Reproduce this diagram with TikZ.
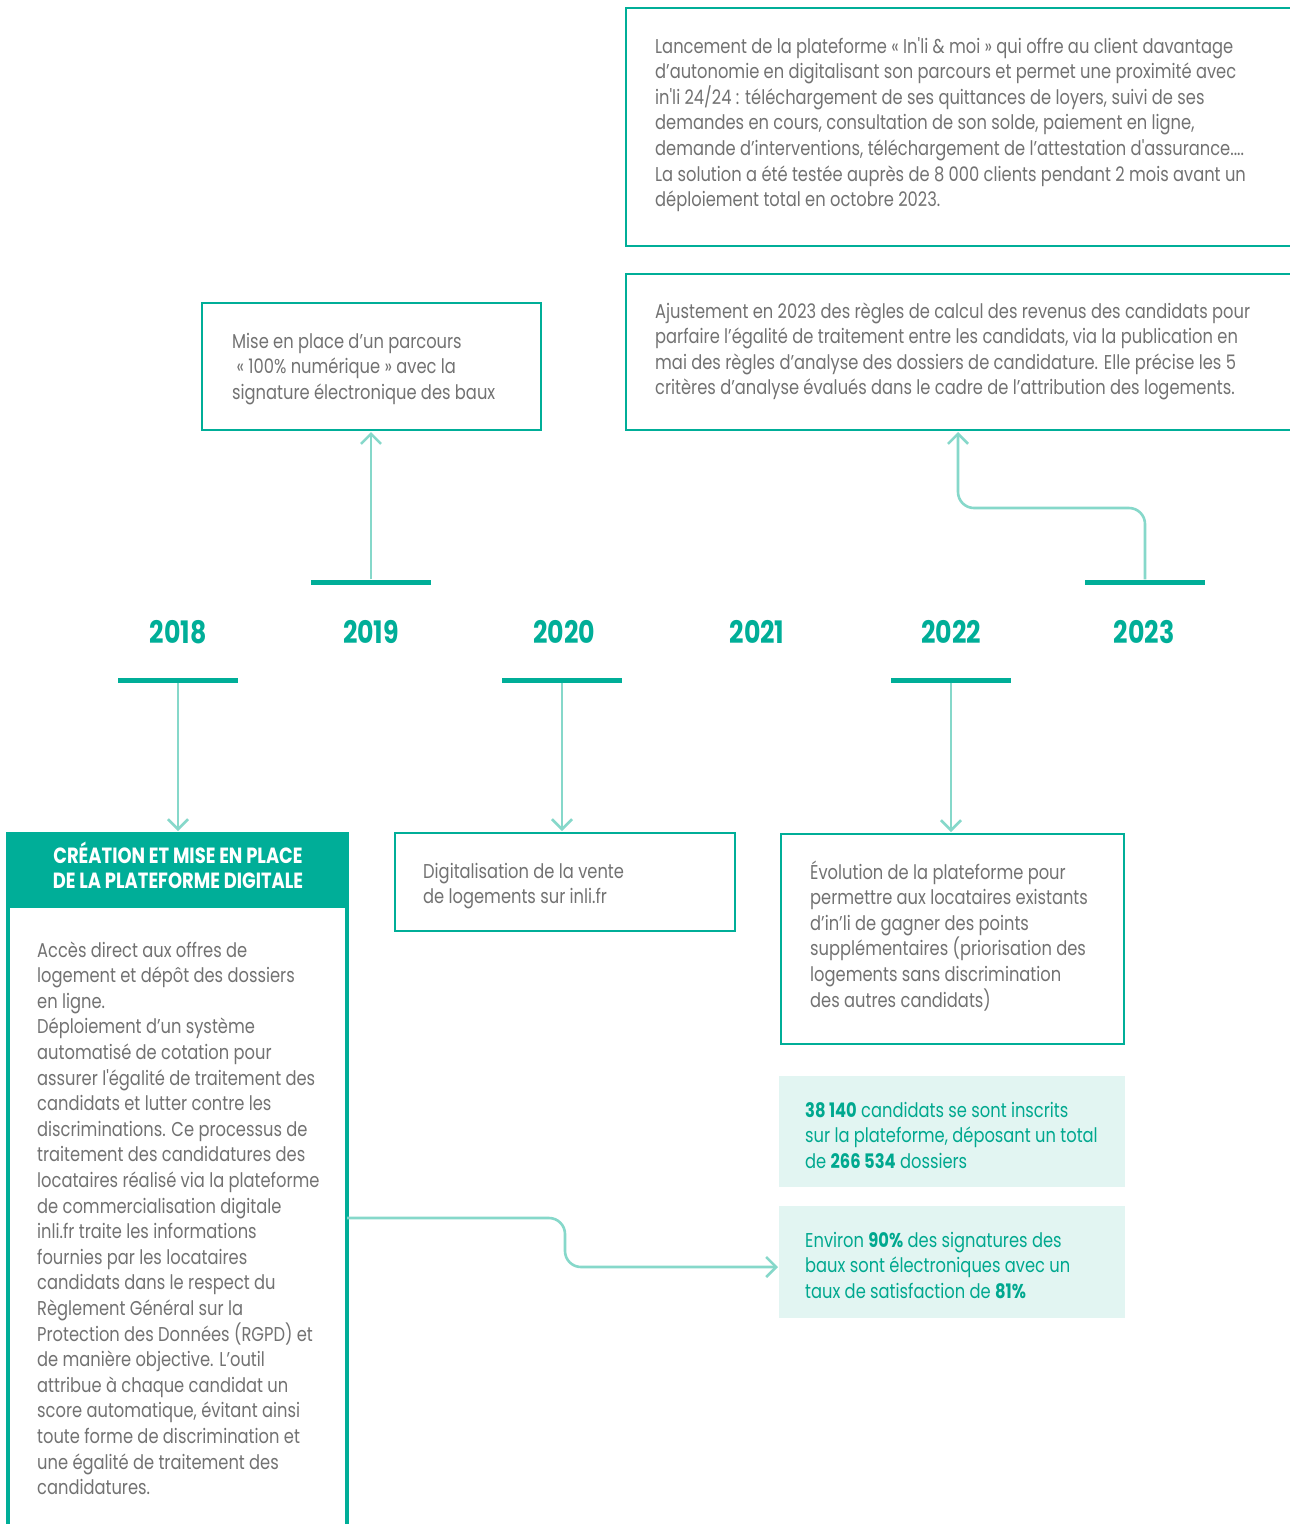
\documentclass[tikz,border=0pt]{standalone}
\usepackage{fontspec}
\setmainfont{Poppins}[FakeStretch=0.815,Ligatures=TeXOff]
\usetikzlibrary{arrows.meta}
\definecolor{tealA}{HTML}{00AE98}
\definecolor{tealL}{HTML}{86D8CA}
\definecolor{gtxt}{HTML}{727272}
\definecolor{statbg}{HTML}{E2F5F2}
\definecolor{stattxt}{HTML}{00A88F}
\newcommand{\mytxt}[1]{\parbox[t]{700pt}{\raggedright #1}}
\tikzset{
  box/.style={draw=tealA, line width=2.5pt, anchor=north west, inner sep=0pt, outer sep=0pt},
  statbox/.style={fill=statbg, anchor=north west, inner sep=0pt, outer sep=0pt},
  bar/.style={fill=tealA, minimum width=120pt, minimum height=5pt, inner sep=0pt},
  txt/.style={anchor=base west, inner sep=0pt, text=gtxt, font=\fontsize{20}{25.6}\selectfont},
  stxt/.style={txt, text=stattxt},
  year/.style={anchor=base, inner sep=0pt, text=tealA, font=\fontsize{31}{31}\selectfont\bfseries},
  conn/.style={draw=tealL, line width=2.6pt, rounded corners=16pt,
    -{Straight Barb[length=10pt, width=20pt]}},
}
\begin{document}
\begin{tikzpicture}[x=1pt,y=-1pt]
\useasboundingbox[fill=white] (0,0) rectangle (1290,1524);

% top right boxes
\node[box, minimum width=690pt, minimum height=238pt] (bA) at (626,8) {};
\node[txt] (tA) at (655,53) {\mytxt{Lancement de la plateforme « In'li \& moi » qui offre au client davantage\\
d’autonomie en digitalisant son parcours et permet une proximité avec\\
in'li 24/24 : téléchargement de ses quittances de loyers, suivi de ses\\
demandes en cours, consultation de son solde, paiement en ligne,\\
demande d’interventions, téléchargement de l’attestation d'assurance....\\
La solution a été testée auprès de 8 000 clients pendant 2 mois avant un\\
déploiement total en octobre 2023.}};

\node[box, minimum width=690pt, minimum height=156pt] (bB) at (626,274) {};
\node[txt] (tB) at (655,318) {\mytxt{Ajustement en 2023 des règles de calcul des revenus des candidats pour\\
parfaire l’égalité de traitement entre les candidats, via la publication en\\
mai des règles d’analyse des dossiers de candidature. Elle précise les 5\\
critères d’analyse évalués dans le cadre de l’attribution des logements.}};

% 2019 box
\node[box, minimum width=339pt, minimum height=127pt] (b2019) at (202,303) {};
\node[txt] (t2019) at (232,348) {\mytxt{Mise en place d’un parcours\\
\ « 100\% numérique » avec la\\
signature électronique des baux}};

% timeline bars
\node[bar] (bar2019) at (371,582) {};
\node[bar] (bar2023) at (1145,582) {};
\node[bar] (bar2018) at (178,680) {};
\node[bar] (bar2020) at (562,680) {};
\node[bar] (bar2022) at (951,680) {};

% years
\node[year] (y2018) at (178,643) {2018};
\node[year] (y2019) at (371,643) {2019};
\node[year] (y2020) at (564,643) {2020};
\node[year] (y2021) at (757,643) {2021};
\node[year] (y2022) at (951,643) {2022};
\node[year] (y2023) at (1144,643) {2023};

% 2018 box
\node[box, draw=none, fill=tealA, minimum width=343pt, minimum height=76pt] (h2018) at (6,832) {};
\node[anchor=base, inner sep=0pt, text=white, align=center,
  font=\fontsize{22}{25}\selectfont\bfseries] (th2018) at (178,863.5)
  {\parbox[t]{330pt}{\centering CRÉATION ET MISE EN PLACE\\DE LA PLATEFORME DIGITALE}};
\node[box, line width=4pt, minimum width=339pt, minimum height=660pt] (b2018) at (8,906) {};
\node[txt] (t2018) at (37,957) {\mytxt{Accès direct aux offres de\\
logement et dépôt des dossiers\\
en ligne.\\
Déploiement d’un système\\
automatisé de cotation pour\\
assurer l'égalité de traitement des\\
candidats et lutter contre les\\
discriminations. Ce processus de\\
traitement des candidatures des\\
locataires réalisé via la plateforme\\
de commercialisation digitale\\
inli.fr traite les informations\\
fournies par les locataires\\
candidats dans le respect du\\
Règlement Général sur la\\
Protection des Données (RGPD) et\\
de manière objective. L’outil\\
attribue à chaque candidat un\\
score automatique, évitant ainsi\\
toute forme de discrimination et\\
une égalité de traitement des\\
candidatures.}};

% 2020 box
\node[box, minimum width=340pt, minimum height=98pt] (b2020) at (395,833) {};
\node[txt] (t2020) at (423,878) {\mytxt{Digitalisation de la vente\\
de logements sur inli.fr}};

% 2022 box
\node[box, minimum width=343pt, minimum height=210pt] (b2022) at (781,834) {};
\node[txt] (t2022) at (810,879) {\mytxt{Évolution de la plateforme pour\\
permettre aux locataires existants\\
d’in’li de gagner des points\\
supplémentaires (priorisation des\\
logements sans discrimination\\
des autres candidats)}};

% stats
\node[statbox, minimum width=346pt, minimum height=111pt] (st1) at (779,1076) {};
\node[stxt] (ts1) at (805,1117) {\mytxt{\textbf{38 140} candidats se sont inscrits\\
sur la plateforme, déposant un total\\
de \textbf{266 534} dossiers}};
\node[statbox, minimum width=346pt, minimum height=112pt] (st2) at (779,1206) {};
\node[stxt] (ts2) at (805,1247) {\mytxt{Environ \textbf{90\%} des signatures des\\
baux sont électroniques avec un\\
taux de satisfaction de \textbf{81\%}}};

% connectors
\draw[conn] (bar2019.north) -- ([yshift=-2pt]b2019.south -| bar2019.north);
\coordinate (c23) at (958,508);
\draw[conn] (bar2023.north) |- (c23) -- ([yshift=-2pt]c23 |- bB.south);
\draw[conn] (bar2018.south) -- ([yshift=1pt]h2018.north -| bar2018.south);
\draw[conn] (bar2020.south) -- ([yshift=2pt]b2020.north -| bar2020.south);
\draw[conn] (bar2022.south) -- ([yshift=2pt]b2022.north -| bar2022.south);
\coordinate (c18) at (565,1218);
\coordinate (c18e) at (778,1267);
\draw[conn] (b2018.east |- c18) -- (c18) |- (c18e);
\end{tikzpicture}
\end{document}
